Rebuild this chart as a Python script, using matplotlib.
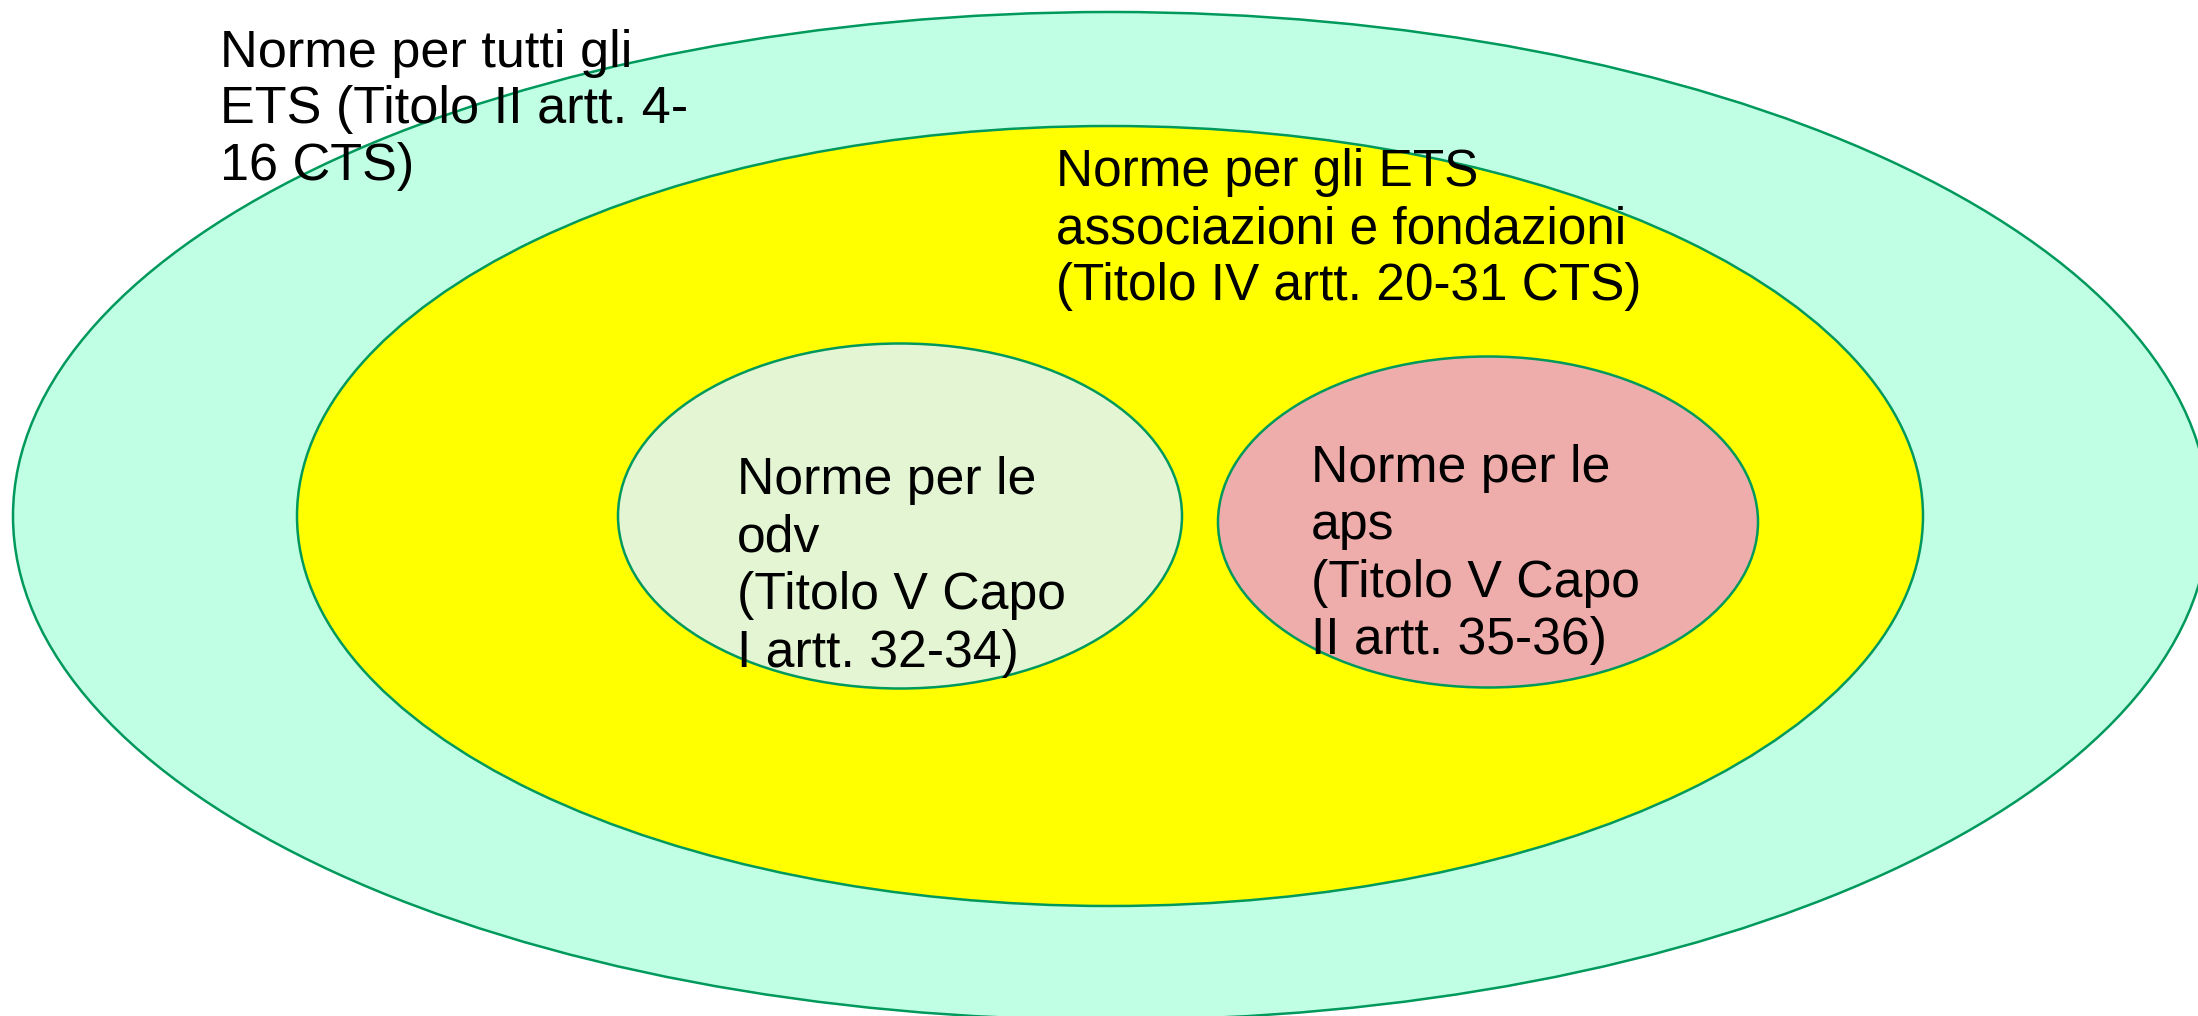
import matplotlib
matplotlib.use("Agg")
import matplotlib.pyplot as plt
from matplotlib.patches import Ellipse

# nested sets: centre x, centre y, full width, full height (pixel space)
names = ["tutti", "associazioni", "odv", "aps"]
centre_x = [1111, 1110, 900, 1488]
centre_y = [516, 516, 516, 522]
widths = [2196, 1626, 564, 540]
heights = [1008, 780, 345, 331]
fills = ["#C1FFE5", "#FFFF00", "#E4F5D4", "#EEADAB"]

labels = [
    ["Norme per tutti gli", "ETS (Titolo II artt. 4-", "16 CTS)"],
    ["Norme per gli ETS", "associazioni e fondazioni", "(Titolo IV artt. 20-31 CTS)"],
    ["Norme per le", "odv", "(Titolo V Capo", "I artt. 32-34)"],
    ["Norme per le", "aps", "(Titolo V Capo", "II artt. 35-36)"],
]
label_x = [220, 1056, 737, 1311]
label_y = [67, 186, 494, 482]
label_step = [56.5, 57, 57.7, 57.3]
label_size = [37.6, 37.0, 37.3, 37.3]

W, H = 2198, 1016
fig = plt.figure(figsize=(W / 100, H / 100), dpi=100)
ax = fig.add_axes([0, 0, 1, 1])
ax.set_xlim(0, W)
ax.set_ylim(H, 0)
ax.axis("off")

for i in range(len(names)):
    ax.add_patch(Ellipse((centre_x[i], centre_y[i]), widths[i], heights[i],
                         facecolor=fills[i], edgecolor="#00995C", lw=1.8,
                         zorder=i + 1))

for i in range(len(labels)):
    for j, line in enumerate(labels[i]):
        ax.text(label_x[i], label_y[i] + j * label_step[i], line,
                ha="left", va="baseline", fontsize=label_size[i],
                family=["Liberation Sans", "DejaVu Sans"], color="black",
                zorder=10)

fig.savefig("out.png", dpi=100)
